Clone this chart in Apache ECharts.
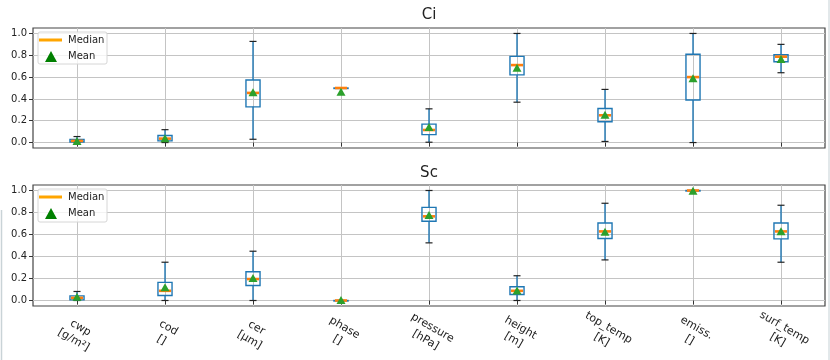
<!DOCTYPE html>
<html>
<head>
<meta charset="utf-8">
<script src="https://cdn.jsdelivr.net/npm/echarts@6/dist/echarts.min.js"></script>
<style>
html,body{margin:0;padding:0;background:#fff;}
#chart{width:830px;height:360px;}
</style>
</head>
<body>
<div id="chart"></div>
<script>
// ---- data ----
const categories = ['cwp\n[g/m²]', 'cod\n[]', 'cer\n[µm]', 'phase\n[]', 'pressure\n[hPa]', 'height\n[m]', 'top_temp\n[K]', 'emiss.\n[]', 'surf_temp\n[K]'];
const yTicks = [0, 0.2, 0.4, 0.6, 0.8, 1.0];

const ciMin  = [0.0,   0.0,   0.03,  0.5, 0.003, 0.37, 0.01,  0.0,  0.64];
const ciQ1   = [0.005, 0.015, 0.327, 0.5, 0.073, 0.62, 0.19,  0.39, 0.74];
const ciMed  = [0.015, 0.036, 0.455, 0.5, 0.115, 0.71, 0.25,  0.60, 0.787];
const ciQ3   = [0.028, 0.064, 0.573, 0.5, 0.169, 0.79, 0.312, 0.81, 0.805];
const ciMax  = [0.055, 0.118, 0.927, 0.5, 0.309, 1.0,  0.487, 1.0,  0.90];
const ciMean = [0.015, 0.04,  0.46,  0.466, 0.142, 0.685, 0.255, 0.59, 0.765];

const scMin  = [0.0,   0.0,   0.0,   0.0, 0.524, 0.0,   0.369, 0.995, 0.348];
const scQ1   = [0.006, 0.046, 0.137, 0.0, 0.72,  0.055, 0.564, 0.998, 0.56];
const scMed  = [0.024, 0.088, 0.195, 0.0, 0.765, 0.088, 0.628, 1.0,   0.628];
const scQ3   = [0.042, 0.165, 0.262, 0.0, 0.847, 0.125, 0.704, 1.0,   0.704];
const scMax  = [0.082, 0.348, 0.448, 0.0, 1.0,   0.225, 0.884, 1.0,   0.866];
const scMean = [0.035, 0.12,  0.205, 0.005, 0.778, 0.09, 0.625, 0.997, 0.63];

// ---- build ----
const xPos = categories.map((c, i) => i + 1);
function boxData(mn, q1, md, q3, mx) {
  return xPos.map((x, i) => [x, mn[i], q1[i], md[i], q3[i], mx[i]]);
}
const FONT = 'DejaVu Sans';
const BLUE = '#1f77b4', ORANGE = '#ff7f0e', GREEN = '#2ca02c';

function renderBox(params, api) {
  const x = api.value(0);
  const lo = api.coord([x, api.value(1)]);
  const q1 = api.coord([x, api.value(2)]);
  const q3 = api.coord([x, api.value(4)]);
  const hi = api.coord([x, api.value(5)]);
  const unit = api.size([1, 0])[0];
  const bw = unit * 0.16, cw = unit * 0.08;
  const cx = lo[0];
  const ls = { stroke: BLUE, lineWidth: 1.4 };
  const cs = { stroke: '#222', lineWidth: 1.2 };
  return {
    type: 'group',
    children: [
      { type: 'line', shape: { x1: cx, y1: q1[1], x2: cx, y2: lo[1] }, style: ls },
      { type: 'line', shape: { x1: cx, y1: q3[1], x2: cx, y2: hi[1] }, style: ls },
      { type: 'line', shape: { x1: cx - cw / 2, y1: lo[1], x2: cx + cw / 2, y2: lo[1] }, style: cs },
      { type: 'line', shape: { x1: cx - cw / 2, y1: hi[1], x2: cx + cw / 2, y2: hi[1] }, style: cs },
      { type: 'rect', shape: { x: cx - bw / 2, y: q3[1], width: bw, height: Math.max(q1[1] - q3[1], 0.5) },
        style: { fill: 'none', stroke: BLUE, lineWidth: 1.4 } }
    ]
  };
}
function renderMedian(params, api) {
  const x = api.value(0);
  const p = api.coord([x, api.value(3)]);
  const unit = api.size([1, 0])[0];
  const bw = unit * 0.16;
  return { type: 'line', shape: { x1: p[0] - bw / 2 + 1, y1: p[1], x2: p[0] + bw / 2 - 1, y2: p[1] },
           style: { stroke: ORANGE, lineWidth: 2.6 } };
}

function xAxisCfg(gi, showLabel) {
  return {
    type: 'value', gridIndex: gi, min: 0.5, max: 9.5,
    axisLine: { show: false },
    axisTick: { show: true, length: 4, customValues: xPos, lineStyle: { color: '#333', width: 1 } },
    axisLabel: {
      show: showLabel, customValues: xPos, rotate: -30, align: 'center', verticalAlign: 'middle',
      margin: 28, fontFamily: FONT, fontSize: 11, color: '#222', lineHeight: 14,
      formatter: v => categories[Math.round(v) - 1] || ''
    },
    splitLine: { show: true, lineStyle: { color: '#c4c4c4', width: 1 } }
  };
}
function yAxisCfg(gi) {
  return {
    type: 'value', gridIndex: gi, min: -0.05, max: 1.05,
    axisLine: { show: false },
    axisTick: { show: true, length: 4, customValues: yTicks, lineStyle: { color: '#333', width: 1 } },
    axisLabel: { customValues: yTicks, fontFamily: FONT, fontSize: 10, color: '#222', margin: 6,
                 formatter: v => v.toFixed(1) },
    splitLine: { show: true, lineStyle: { color: '#c4c4c4', width: 1 } }
  };
}
function seriesFor(gi, mn, q1, md, q3, mx, mean) {
  const d = boxData(mn, q1, md, q3, mx);
  return [
    { type: 'custom', name: 'box', xAxisIndex: gi, yAxisIndex: gi, renderItem: renderBox, data: d, clip: false,
      encode: { x: 0, y: [1, 2, 3, 4, 5] }, z: 2 },
    { type: 'custom', name: 'Median', xAxisIndex: gi, yAxisIndex: gi, renderItem: renderMedian, data: d, clip: false,
      encode: { x: 0, y: 3 }, itemStyle: { color: ORANGE }, z: 3 },
    { type: 'scatter', name: 'Mean', xAxisIndex: gi, yAxisIndex: gi, symbol: 'triangle', symbolSize: [9, 8],
      data: xPos.map((x, i) => [x, mean[i]]), itemStyle: { color: GREEN, opacity: 1 }, z: 4, clip: false }
  ];
}
function legends(top) {
  return [
    { top: top + 3, left: 39, z: 20, orient: 'vertical', itemWidth: 23, itemHeight: 3, icon: 'rect',
      data: [{ name: 'Median', itemStyle: { color: '#ffa500' } }], selectedMode: false,
      textStyle: { fontFamily: FONT, fontSize: 10, color: '#222', padding: [0, 0, 0, 1] }, padding: 0 },
    { top: top + 19, left: 45, z: 20, orient: 'vertical', itemWidth: 12, itemHeight: 11, icon: 'triangle',
      data: [{ name: 'Mean', itemStyle: { color: '#008000' } }], selectedMode: false,
      textStyle: { fontFamily: FONT, fontSize: 10, color: '#222', padding: [0, 0, 0, 6] }, padding: 0 }
  ];
}

const option = {
  animation: false,
  backgroundColor: '#fff',
  title: [
    { text: 'Ci', left: 429, top: 8, textAlign: 'center', padding: 0,
      textStyle: { fontFamily: FONT, fontSize: 15, fontWeight: 'normal', color: '#222' } },
    { text: 'Sc', left: 429, top: 166, textAlign: 'center', padding: 0,
      textStyle: { fontFamily: FONT, fontSize: 15, fontWeight: 'normal', color: '#222' } }
  ],
  legend: [...legends(32), ...legends(189)],
  grid: [
    { left: 33, right: 5, top: 28, height: 120, show: true, borderColor: '#444', borderWidth: 1.2, backgroundColor: 'transparent', outerBoundsMode: 'none' },
    { left: 33, right: 5, top: 185, height: 121, show: true, borderColor: '#444', borderWidth: 1.2, backgroundColor: 'transparent', outerBoundsMode: 'none' }
  ],
  xAxis: [xAxisCfg(0, false), xAxisCfg(1, true)],
  yAxis: [yAxisCfg(0), yAxisCfg(1)],
  series: [
    ...seriesFor(0, ciMin, ciQ1, ciMed, ciQ3, ciMax, ciMean),
    ...seriesFor(1, scMin, scQ1, scMed, scQ3, scMax, scMean)
  ],
  graphic: [
    { type: 'rect', shape: { x: 38, y: 32, width: 69, height: 32, r: 2 },
      style: { fill: 'rgba(255,255,255,0.8)', stroke: '#d6d6d6', lineWidth: 1 }, z: 6 },
    { type: 'rect', shape: { x: 38, y: 189, width: 69, height: 33, r: 2 },
      style: { fill: 'rgba(255,255,255,0.8)', stroke: '#d6d6d6', lineWidth: 1 }, z: 6 },
    { type: 'line', shape: { x1: 1.5, y1: 210, x2: 1.5, y2: 360 }, style: { stroke: '#c9d3d7', lineWidth: 1.5 }, z: 1 },
    { type: 'line', shape: { x1: 829, y1: 0, x2: 829, y2: 360 }, style: { stroke: '#d9e0e3', lineWidth: 1.5 }, z: 1 }
  ]
};
const chart = echarts.init(document.getElementById('chart'), null, { renderer: 'canvas' });
chart.setOption(option);
</script>
</body>
</html>
